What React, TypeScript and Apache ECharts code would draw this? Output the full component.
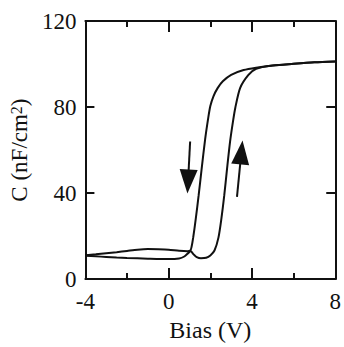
import React, { useEffect, useRef } from "react";
import * as echarts from "echarts";

// Down sweep (bias from +8 V to -4 V): [V, nF/cm^2]
const downSweep: [number, number][] = [
  [8, 101.2], [7, 100.8], [6, 100.1], [5, 99.3], [4.2, 98.3], [3.6, 97.2],
  [3.0, 95], [2.6, 92], [2.35, 88.8], [2.15, 85], [2.0, 80.5], [1.9, 75],
  [1.75, 65], [1.58, 51], [1.44, 39], [1.3, 28], [1.18, 19.5], [1.1, 15],
  [1.04, 13.3], [0.9, 13], [0.5, 13.2], [0, 13.7], [-0.5, 13.9], [-1, 14],
  [-1.5, 13.7], [-2, 13.1], [-2.5, 12.5], [-3, 12], [-3.5, 11.5], [-4, 11.1],
];

// Up sweep (bias from -4 V to +8 V)
const upSweep: [number, number][] = [
  [-4, 10.9], [-3.5, 10.6], [-3, 10.3], [-2.5, 10], [-2, 9.8], [-1, 9.5],
  [0, 9.3], [0.5, 9.6], [0.75, 10.5], [0.95, 12.2], [1.06, 12.9], [1.2, 11.5],
  [1.35, 10.2], [1.55, 9.7], [1.8, 9.9], [2.0, 11], [2.2, 13.3], [2.39, 19.3],
  [2.53, 28], [2.67, 39], [2.8, 51], [2.95, 64], [3.1, 74], [3.2, 79.7],
  [3.43, 88.8], [3.82, 94.8], [4.2, 97.8], [5, 99.3], [6, 100.1], [7, 100.8],
  [8, 101.2],
];

// Sweep-direction arrows: [start, head centre] in data coordinates
const downArrow: [number, number][] = [[1.03, 64], [0.93, 45.4]];
const upArrow: [number, number][] = [[3.28, 38.2], [3.49, 58.9]];

const xTicks = [-4, 0, 4, 8];
const yTicks = [0, 40, 80, 120];

const FONT = "Liberation Serif";
const INK = "#111111";

export default function App() {
  const ref = useRef<HTMLDivElement>(null);
  useEffect(() => {
    if (!ref.current) return;
    const chart = echarts.init(ref.current, null, { renderer: "svg" });
    const axisLine = { show: true, onZero: false, lineStyle: { color: INK, width: 2 } };
    const xBase = {
      type: "value" as const,
      min: xTicks[0],
      max: xTicks[xTicks.length - 1],
      interval: xTicks[1] - xTicks[0],
      axisLine,
      splitLine: { show: false },
      axisTick: { show: true, inside: true, length: 11, lineStyle: { color: INK, width: 2 } },
      minorTick: { show: true, splitNumber: 2, length: 6, lineStyle: { color: INK, width: 2 } },
    };
    const yBase = {
      type: "value" as const,
      min: yTicks[0],
      max: yTicks[yTicks.length - 1],
      interval: yTicks[1] - yTicks[0],
      axisLine,
      splitLine: { show: false },
      axisTick: { show: true, inside: true, length: 9, lineStyle: { color: INK, width: 2 } },
    };
    chart.setOption({
      animation: false,
      backgroundColor: "#ffffff",
      grid: { left: 75, right: 6, top: 21, bottom: 61, containLabel: false },
      xAxis: [
        {
          ...xBase,
          position: "bottom",
          name: "Bias (V)",
          nameLocation: "middle",
          nameGap: 38,
          nameTextStyle: { fontFamily: FONT, fontSize: 24, color: INK },
          axisLabel: { fontFamily: FONT, fontSize: 23, color: INK, margin: 11 },
        },
        { ...xBase, position: "top", axisLabel: { show: false } },
      ],
      yAxis: [
        {
          ...yBase,
          position: "left",
          name: "C (nF/cm{sup|2})",
          nameLocation: "middle",
          nameRotate: 90,
          nameGap: 36,
          nameTextStyle: {
            fontFamily: FONT,
            fontSize: 23,
            color: INK,
            rich: { sup: { fontFamily: FONT, fontSize: 16, color: INK, verticalAlign: "top" } },
          },
          axisLabel: { fontFamily: FONT, fontSize: 23, color: INK, margin: 9 },
        },
        { ...yBase, position: "right", axisLabel: { show: false } },
      ],
      series: [
        {
          type: "line",
          data: downSweep,
          smooth: 0.25,
          showSymbol: false,
          lineStyle: { color: INK, width: 2 },
          markLine: {
            silent: true,
            symbol: ["none", "triangle"],
            symbolSize: [18, 24],
            label: { show: false },
            lineStyle: { color: INK, width: 2, type: "solid" },
            data: [
              [{ coord: downArrow[0] }, { coord: downArrow[1] }],
              [{ coord: upArrow[0] }, { coord: upArrow[1] }],
            ],
          },
        },
        {
          type: "line",
          data: upSweep,
          smooth: 0.25,
          showSymbol: false,
          lineStyle: { color: INK, width: 2 },
        },
      ],
    });
    return () => chart.dispose();
  }, []);
  return (
    <div
      ref={ref}
      style={{ position: "fixed", left: 0, top: 0, width: 344, height: 347, background: "#fff" }}
    />
  );
}
